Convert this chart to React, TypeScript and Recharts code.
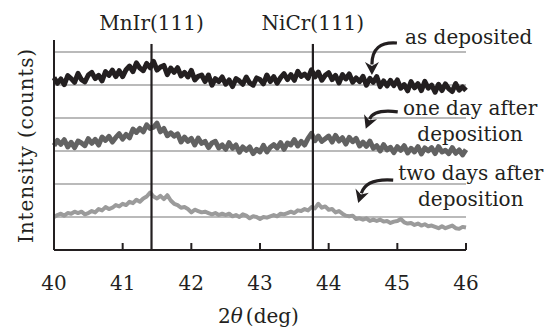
import React from 'react';
import { LineChart, Line, XAxis, YAxis, ReferenceLine, ReferenceDot } from 'recharts';

const ANGLES = [
  40.0, 40.05, 40.1, 40.15, 40.2, 40.25, 40.3, 40.35, 40.4, 40.45, 40.5, 40.55, 40.6, 40.65, 40.7, 40.75, 40.8, 40.85, 40.9, 40.95,
  41.0, 41.05, 41.1, 41.15, 41.2, 41.25, 41.3, 41.35, 41.4, 41.45, 41.5, 41.55, 41.6, 41.65, 41.7, 41.75, 41.8, 41.85, 41.9, 41.95,
  42.0, 42.05, 42.1, 42.15, 42.2, 42.25, 42.3, 42.35, 42.4, 42.45, 42.5, 42.55, 42.6, 42.65, 42.7, 42.75, 42.8, 42.85, 42.9, 42.95,
  43.0, 43.05, 43.1, 43.15, 43.2, 43.25, 43.3, 43.35, 43.4, 43.45, 43.5, 43.55, 43.6, 43.65, 43.7, 43.75, 43.8, 43.85, 43.9, 43.95,
  44.0, 44.05, 44.1, 44.15, 44.2, 44.25, 44.3, 44.35, 44.4, 44.45, 44.5, 44.55, 44.6, 44.65, 44.7, 44.75, 44.8, 44.85, 44.9, 44.95,
  45.0, 45.05, 45.1, 45.15, 45.2, 45.25, 45.3, 45.35, 45.4, 45.45, 45.5, 45.55, 45.6, 45.65, 45.7, 45.75, 45.8, 45.85, 45.9, 45.95,
  46.0,
];

const AS_DEPOSITED = [
  5.22, 5.05, 5.18, 5.01, 5.28, 5.19, 5.08, 5.35, 5.16, 5.09, 5.30, 5.38, 5.19, 5.29, 5.12, 5.40, 5.29, 5.45, 5.25, 5.43,
  5.25, 5.46, 5.57, 5.40, 5.67, 5.51, 5.43, 5.65, 5.52, 5.71, 5.45, 5.54, 5.59, 5.31, 5.51, 5.38, 5.52, 5.27, 5.38, 5.24,
  5.44, 5.15, 5.26, 5.30, 5.10, 5.30, 4.99, 5.19, 5.10, 5.24, 5.02, 5.15, 4.95, 5.19, 5.12, 5.02, 5.24, 5.06, 4.99, 5.21,
  5.16, 5.03, 5.30, 5.10, 5.25, 5.05, 5.22, 5.34, 5.16, 5.31, 5.14, 5.41, 5.26, 5.33, 5.20, 5.46, 5.24, 5.39, 5.14, 5.29,
  5.37, 5.16, 5.29, 5.06, 5.31, 5.18, 5.33, 5.08, 5.21, 5.10, 5.26, 4.99, 5.20, 5.08, 5.25, 4.95, 5.12, 4.97, 5.14, 4.98,
  5.15, 4.90, 5.01, 4.82, 5.10, 4.91, 5.04, 4.83, 5.11, 4.90, 4.99, 4.78, 5.02, 4.83, 5.03, 4.88, 4.80, 5.04, 4.84, 4.94,
  4.83,
];

const ONE_DAY_AFTER = [
  3.16, 3.32, 3.20, 3.34, 3.12, 3.26, 3.10, 3.30, 3.24, 3.16, 3.37, 3.23, 3.35, 3.18, 3.42, 3.32, 3.44, 3.27, 3.41, 3.52,
  3.36, 3.50, 3.40, 3.66, 3.56, 3.68, 3.58, 3.79, 3.68, 3.72, 3.84, 3.58, 3.68, 3.46, 3.55, 3.45, 3.52, 3.27, 3.42, 3.29,
  3.38, 3.18, 3.39, 3.23, 3.29, 3.10, 3.24, 3.29, 3.09, 3.18, 3.05, 3.25, 3.08, 3.18, 2.96, 3.12, 3.02, 3.12, 2.92, 3.05,
  2.97, 3.17, 2.97, 3.11, 3.19, 3.09, 3.25, 3.05, 3.24, 3.18, 3.34, 3.15, 3.29, 3.18, 3.38, 3.53, 3.31, 3.45, 3.29, 3.37,
  3.45, 3.27, 3.47, 3.30, 3.40, 3.21, 3.41, 3.28, 3.38, 3.15, 3.27, 3.14, 3.30, 3.08, 3.16, 3.00, 3.19, 3.03, 3.11, 2.95,
  3.13, 3.02, 3.16, 2.94, 3.08, 2.97, 3.13, 2.91, 3.09, 3.00, 3.10, 2.92, 3.13, 2.97, 3.02, 2.92, 3.10, 2.93, 3.03, 2.88,
  3.04,
];

const TWO_DAYS_AFTER = [
  1.00, 1.06, 1.10, 1.04, 1.12, 1.10, 1.16, 1.12, 1.16, 1.08, 1.12, 1.18, 1.14, 1.24, 1.20, 1.30, 1.24, 1.28, 1.36, 1.32,
  1.40, 1.36, 1.46, 1.42, 1.52, 1.46, 1.56, 1.62, 1.74, 1.62, 1.56, 1.64, 1.54, 1.66, 1.50, 1.40, 1.36, 1.28, 1.30, 1.24,
  1.14, 1.22, 1.18, 1.14, 1.16, 1.12, 1.08, 1.12, 1.06, 1.10, 1.06, 1.10, 1.02, 1.06, 1.00, 1.08, 1.04, 0.96, 1.02, 1.00,
  0.94, 1.00, 0.98, 1.02, 1.06, 1.02, 1.10, 1.08, 1.12, 1.16, 1.12, 1.20, 1.18, 1.24, 1.20, 1.30, 1.26, 1.40, 1.28, 1.32,
  1.22, 1.24, 1.14, 1.18, 1.10, 1.04, 1.02, 1.04, 0.94, 0.96, 0.92, 0.96, 0.88, 0.92, 0.88, 0.92, 0.86, 0.88, 0.82, 0.86,
  0.88, 0.94, 0.84, 0.80, 0.82, 0.76, 0.80, 0.74, 0.78, 0.72, 0.74, 0.70, 0.66, 0.72, 0.66, 0.70, 0.74, 0.66, 0.64, 0.70,
  0.68,
];

const X_TICKS = [40, 41, 42, 43, 44, 45, 46];
const Y_GRID = [1, 2, 3, 4, 5, 6];
const PEAK_NAMES = ['MnIr(111)', 'NiCr(111)'];
const PEAK_ANGLES = [41.42, 43.77];
const PEAK_TOP = 6.24;

const ANNOTATION_LINES = [['as deposited'], ['one day after', 'deposition'], ['two days after', 'deposition']];
const ANNOTATION_TEXT_X = [46.04, 46.06, 46.07];
const ANNOTATION_TEXT_Y = [6.24, 4.09, 2.12];
const ARROW_TIP_X = [44.63, 44.54, 44.43];
const ARROW_TIP_Y = [5.30, 3.67, 1.42];
// arrow tail and bend (pixels relative to the tip)
const ARROW_SHAPES = [
  { tail: [25, -32], ctrl: [0, -34] },
  { tail: [32, -17], ctrl: [8, -20] },
  { tail: [35, -23], ctrl: [8, -25] },
];

const data = ANGLES.map((a, i) => ({
  angle: a,
  asDep: AS_DEPOSITED[i],
  oneDay: ONE_DAY_AFTER[i],
  twoDays: TWO_DAYS_AFTER[i],
}));

const FONT = "'DejaVu Serif', serif";
const INK = '#231f20';

const makeArrow = (idx: number) => (props: any) => {
  const { cx, cy } = props;
  const s = ARROW_SHAPES[idx];
  const [tx, ty] = s.tail;
  const [qx, qy] = s.ctrl;
  const len = Math.hypot(qx, qy);
  const dx = -qx / len;
  const dy = -qy / len;
  const headLen = 13;
  const half = 7;
  const bx = -dx * headLen;
  const by = -dy * headLen;
  const px = -dy * half;
  const py = dx * half;
  return (
    <g>
      <path
        d={`M${cx + tx},${cy + ty} Q${cx + qx},${cy + qy} ${cx + bx * 0.8},${cy + by * 0.8}`}
        fill="none"
        stroke={INK}
        strokeWidth={3.2}
      />
      <path
        d={`M${cx},${cy} L${cx + bx + px},${cy + by + py} L${cx + bx * 0.7},${cy + by * 0.7} L${cx + bx - px},${cy + by - py} Z`}
        fill={INK}
      />
    </g>
  );
};

const makeText = (idx: number) => (props: any) => {
  const { cx, cy } = props;
  return (
    <text x={cx} y={cy} textAnchor="middle" fontFamily={FONT} fontSize={20} fill={INK}>
      {ANNOTATION_LINES[idx].map((l, j) => (
        <tspan key={j} x={cx} dy={j === 0 ? 0 : 26}>
          {l}
        </tspan>
      ))}
    </text>
  );
};

const XTick = (props: any) => {
  const { x, y, payload } = props;
  return (
    <g>
      {payload.value !== X_TICKS[0] && <line x1={x} x2={x} y1={y} y2={y - 7} stroke={INK} strokeWidth={2} />}
      <text x={x} y={y + 40} textAnchor="middle" fontFamily={FONT} fontSize={20} fill={INK}>
        {payload.value}
      </text>
    </g>
  );
};

const YLabel = (props: any) => {
  const vb = props.viewBox;
  const x = vb.x + 9;
  const y = vb.y + vb.height / 2 + 0.5;
  return (
    <text
      x={x}
      y={y}
      transform={`rotate(-90 ${x} ${y})`}
      textAnchor="middle"
      fontFamily={FONT}
      fontSize={20}
      fill={INK}
      letterSpacing={0.9}
    >
      Intensity (counts)
    </text>
  );
};

const XLabel = (props: any) => {
  const vb = props.viewBox;
  const x = vb.x + vb.width / 2 - 1.5;
  const y = vb.y + 73;
  return (
    <text x={x} y={y} textAnchor="middle" fontFamily={FONT} fontSize={20} fill={INK}>
      2<tspan fontStyle="italic">θ</tspan>
      <tspan dx={3}>(deg)</tspan>
    </text>
  );
};

export default function App() {
  return (
    <div style={{ position: 'absolute', left: 0, top: 0, background: '#fff' }}>
      <LineChart width={557} height={330} data={data} margin={{ top: 40, right: 91, bottom: 20, left: 24 }}>
        {Y_GRID.map((v) => (
          <ReferenceLine key={`g${v}`} y={v} stroke="#a3a3a3" strokeWidth={1.5} />
        ))}
        <XAxis
          dataKey="angle"
          type="number"
          domain={[40, 46]}
          ticks={X_TICKS}
          height={60}
          tickLine={false}
          tickSize={0}
          tickMargin={0}
          axisLine={{ stroke: INK, strokeWidth: 2 }}
          tick={XTick}
          label={{ content: XLabel }}
        />
        <YAxis
          type="number"
          domain={[0, 6.36]}
          ticks={Y_GRID}
          width={30}
          tick={false}
          tickLine={false}
          axisLine={{ stroke: INK, strokeWidth: 2 }}
          label={{ content: YLabel }}
        />
        <Line type="linear" dataKey="twoDays" stroke="#9b9b9b" strokeWidth={4} dot={false} isAnimationActive={false} strokeLinejoin="round" />
        <Line type="linear" dataKey="oneDay" stroke="#626262" strokeWidth={5} dot={false} isAnimationActive={false} strokeLinejoin="round" />
        <Line type="linear" dataKey="asDep" stroke={INK} strokeWidth={5} dot={false} isAnimationActive={false} strokeLinejoin="round" />
        {PEAK_ANGLES.map((a, i) => (
          <ReferenceLine
            key={`peak${i}`}
            segment={[{ x: a, y: 0 }, { x: a, y: PEAK_TOP }]}
            stroke={INK}
            strokeWidth={2.2}
            label={{ value: PEAK_NAMES[i], position: 'top', offset: 14, fill: INK, fontSize: 20, fontFamily: FONT }}
          />
        ))}
        {ANNOTATION_LINES.map((_, i) => (
          <ReferenceDot key={`at${i}`} x={ARROW_TIP_X[i]} y={ARROW_TIP_Y[i]} r={1} ifOverflow="visible" shape={makeArrow(i)} />
        ))}
        {ANNOTATION_LINES.map((_, i) => (
          <ReferenceDot key={`tx${i}`} x={ANNOTATION_TEXT_X[i]} y={ANNOTATION_TEXT_Y[i]} r={1} ifOverflow="visible" shape={makeText(i)} />
        ))}
      </LineChart>
    </div>
  );
}
